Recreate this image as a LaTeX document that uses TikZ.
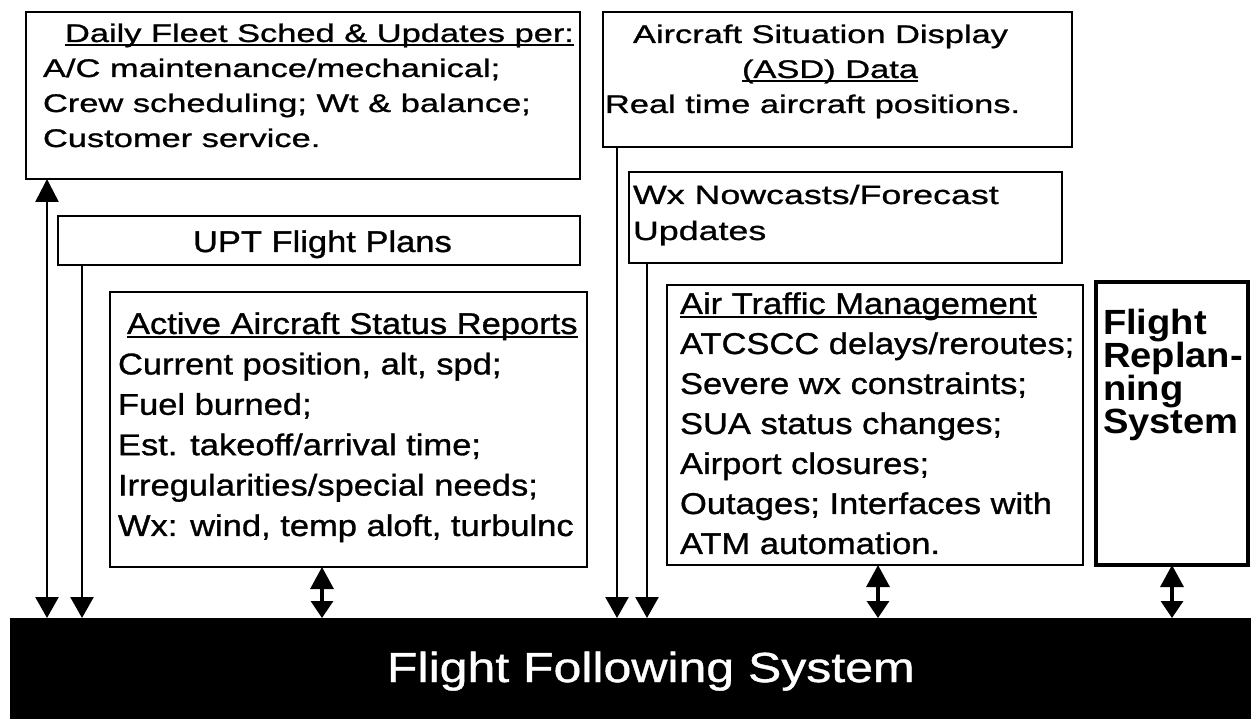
\documentclass[tikz,border=0pt]{standalone}
\usepackage{fontspec}
\setmainfont{Liberation Sans}
\newfontfamily\wideface[FakeStretch=1.35,FakeBold=1]{Liberation Sans}
\newfontfamily\midface[FakeStretch=1.15,FakeBold=1]{Liberation Sans}
\newfontfamily\heavyface[FakeStretch=1.09]{Liberation Sans}
\newfontfamily\barface[FakeStretch=1.19,FakeBold=1]{Liberation Sans}
\usetikzlibrary{arrows.meta}

% heavy underline for panel headings
\newcommand\ulin[1]{\setbox0\hbox{#1}\rlap{\rule[-4.5pt]{\wd0}{2pt}}\box0}
% panel body: width, height, first baseline, font setup, rows
\newcommand\pane[5]{\begin{minipage}[t][#2pt][t]{#1pt}#4\setlength\parindent{0pt}\setlength\lineskiplimit{-200pt}\setlength\lineskip{0pt}\raggedright\rule{0pt}{#3pt}#5\end{minipage}}
% one text row with its own indent
\newcommand\row[2]{\hspace*{#1pt}\mbox{#2}}

\tikzset{
  panel/.style={draw, line width=2.8pt, inner sep=0pt, outer sep=0pt, anchor=north west, fill=white},
  oneway/.style={line width=2.6pt, -{Triangle[width=23pt,length=21pt]}},
  twoway/.style={line width=2.6pt, {Triangle[width=23pt,length=23pt]}-{Triangle[width=23pt,length=21pt]}},
  shortway/.style={line width=3.2pt, {Triangle[width=23pt,length=22pt]}-{Triangle[width=22pt,length=17pt]}},
}

\begin{document}
\begin{tikzpicture}[x=1pt, y=-1pt]
\useasboundingbox (0,0) rectangle (1251,719);

% sources feeding the flight following system
\node[panel] (fleet) at (26,12) {\pane{554}{167}{30}{\wideface\fontsize{25.5}{35}\selectfont}{%
  \row{39}{\ulin{Daily Fleet Sched \& Updates per:}}\\
  \row{17}{A/C maintenance/mechanical;}\\
  \row{17}{Crew scheduling; Wt \& balance;}\\
  \row{17}{Customer service.}}};

\node[panel] (asd) at (603,12) {\pane{469}{135}{31}{\wideface\fontsize{25.5}{35}\selectfont}{%
  \row{30}{Aircraft Situation Display}\\
  \row{139}{\ulin{(ASD) Data}}\\
  \row{2}{Real time aircraft positions.}}};

\node[panel] (upt) at (58,216) {\pane{522}{49}{36}{\midface\fontsize{30}{36}\selectfont}{%
  \row{135}{UPT Flight Plans}}};

\node[panel] (wx) at (629,172) {\pane{433}{91}{32}{\wideface\fontsize{26.5}{36}\selectfont}{%
  \row{4}{Wx Nowcasts/Forecast}\\
  \row{4}{Updates}}};

\node[panel] (act) at (110,292) {\pane{477}{275}{42}{\midface\fontsize{30}{40.4}\selectfont}{%
  \row{17}{\ulin{Active Aircraft Status Reports}}\\
  \row{8}{Current position, alt, spd;}\\
  \row{8}{Fuel burned;}\\
  \row{8}{Est. takeoff/arrival time;}\\
  \row{8}{Irregularities/special needs;}\\
  \row{8}{Wx: wind, temp aloft, turbulnc}}};

\node[panel] (atm) at (667,285) {\pane{416}{280}{29}{\midface\fontsize{30}{40}\selectfont}{%
  \row{13}{\ulin{Air Traffic Management}}\\
  \row{13}{ATCSCC delays/reroutes;}\\
  \row{13}{Severe wx constraints;}\\
  \row{13}{SUA status changes;}\\
  \row{13}{Airport closures;}\\
  \row{13}{Outages; Interfaces with}\\
  \row{13}{ATM automation.}}};

\node[panel, line width=4.6pt] (frs) at (1096,282) {\pane{152}{283}{53}{\heavyface\bfseries\fontsize{35}{33}\selectfont}{%
  \row{7}{Flight}\\
  \row{7}{Replan-}\\
  \row{7}{ning}\\
  \row{7}{System}}};

% the central system
\node[fill=black, text=white, inner sep=0pt, outer sep=0pt, anchor=north west] (ffs) at (10,618)
  {\pane{1241}{101}{64}{\barface\fontsize{42}{42}\selectfont}{\row{377}{Flight Following System}}};

% connector attachment points along the panel bottoms
\coordinate (c1) at ([xshift=21pt]fleet.south west);
\coordinate (c2) at ([xshift=24pt]upt.south west);
\coordinate (c3) at ([xshift=212pt]act.south west);
\coordinate (c4) at ([xshift=14pt]asd.south west);
\coordinate (c5) at ([xshift=18pt]wx.south west);
\coordinate (c6) at ([xshift=211pt]atm.south west);
\coordinate (c7) at ([xshift=76pt]frs.south west);

\draw[twoway] (c1) -- (c1 |- ffs.north);
\draw[oneway] (c2) -- (c2 |- ffs.north);
\draw[shortway] (c3) -- (c3 |- ffs.north);
\draw[oneway] (c4) -- (c4 |- ffs.north);
\draw[oneway] (c5) -- (c5 |- ffs.north);
\draw[shortway] (c6) -- (c6 |- ffs.north);
\draw[shortway] (c7) -- (c7 |- ffs.north);
\end{tikzpicture}
\end{document}
